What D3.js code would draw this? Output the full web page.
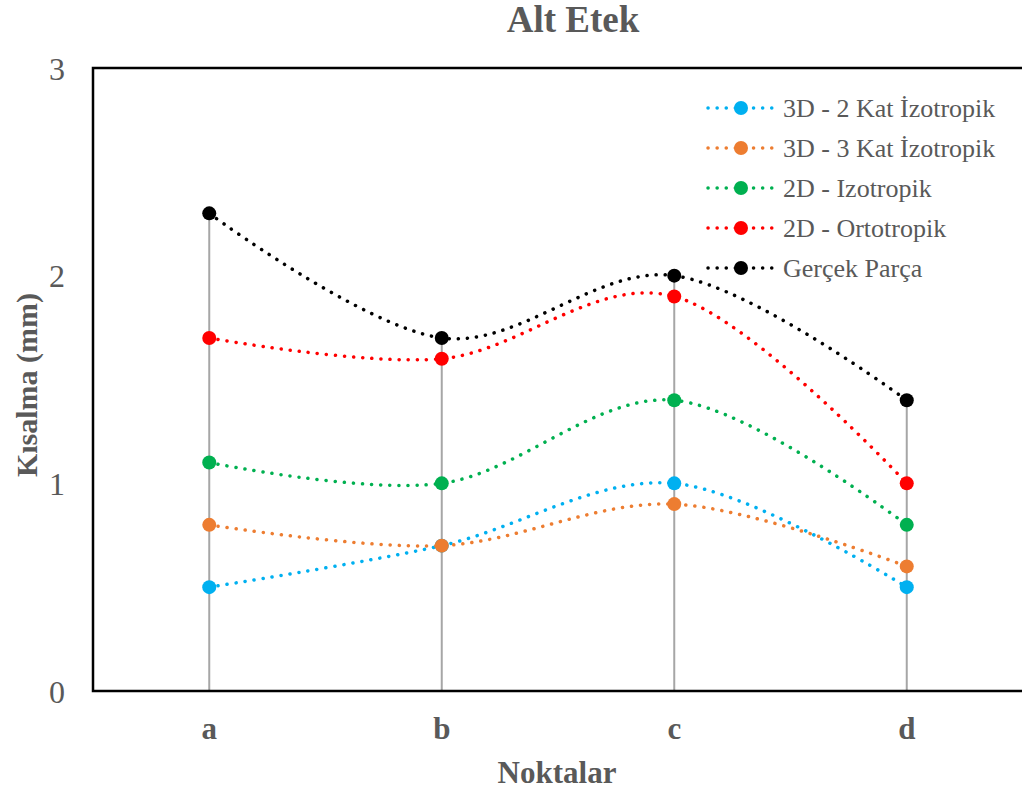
<!DOCTYPE html>
<html><head><meta charset="utf-8">
<script src="https://cdn.jsdelivr.net/npm/d3@7"></script>
<style>body{margin:0;background:#fff;} svg{display:block;} svg text{font-family:"Liberation Serif",Tinos,"Times New Roman",Times,"DejaVu Serif",serif;}</style>
</head><body>
<svg id="c" width="1022" height="794"></svg>
<script>
const categories = ["a","b","c","d"];
const seriesNames = ["3D - 2 Kat İzotropik","3D - 3 Kat İzotropik","2D - Izotropik","2D - Ortotropik","Gerçek Parça"];
const seriesColors = ["#00B0F0","#ED7D31","#00B050","#FF0000","#000000"];
const s3D2Kat = [0.5,0.7,1.0,0.5];
const s3D3Kat = [0.8,0.7,0.9,0.6];
const s2DIzo = [1.1,1.0,1.4,0.8];
const s2DOrto = [1.7,1.6,1.9,1.0];
const sGercek = [2.3,1.7,2.0,1.4];
const yTicks = [0,1,2,3];
const seriesValues = [s3D2Kat,s3D3Kat,s2DIzo,s2DOrto,sGercek];

const svg = d3.select("#c");
const L=93, R=1023, T=68, B=691;
const x = d3.scaleBand().domain(categories).range([L,R]);
const y = d3.scaleLinear().domain([0,3]).range([B,T]);
const xc = c => x(c)+x.bandwidth()/2;
const txt = "#595959";

// drop lines
categories.forEach((c,i)=>{
  const mx = d3.max(seriesValues, s=>s[i]);
  svg.append("line").attr("x1",xc(c)).attr("x2",xc(c)).attr("y1",y(mx)).attr("y2",y(0))
    .attr("stroke","#A6A6A6").attr("stroke-width",2);
});

// frame
svg.append("path").attr("d",`M${R},${T}H${L}V${B}H${R}`).attr("fill","none").attr("stroke","#000").attr("stroke-width",2.5);

// y tick labels
const yAxis = d3.axisLeft(y).tickValues(yTicks).tickSize(0).tickPadding(0).tickFormat(d3.format("d"));
const ga = svg.append("g").attr("transform",`translate(${L-28},0)`).call(yAxis);
ga.attr("font-family",null);
ga.select(".domain").remove();
ga.selectAll("text").attr("font-size",32).attr("fill",txt).attr("dy","0.35em");

// x labels
const xAxis = d3.axisBottom(x).tickSize(0).tickPadding(0);
const gx = svg.append("g").attr("transform",`translate(0,${B+26})`).call(xAxis);
gx.attr("font-family",null);
gx.select(".domain").remove();
gx.selectAll("text").attr("font-size",31).attr("font-weight","bold").attr("fill",txt).attr("dy","0.71em");

// lines
const line = d3.line().x((d,i)=>xc(categories[i])).y(d=>y(d)).curve(d3.curveCardinal.tension(0));
seriesValues.forEach((s,k)=>{
  svg.append("path").attr("d",line(s)).attr("fill","none").attr("stroke",seriesColors[k])
    .attr("stroke-width",3.5).attr("stroke-linecap","round").attr("stroke-dasharray","0.1 9");
});
seriesValues.forEach((s,k)=>{
  svg.selectAll(null).data(s).enter().append("circle")
    .attr("cx",(d,i)=>xc(categories[i])).attr("cy",d=>y(d)).attr("r",7).attr("fill",seriesColors[k]);
});

// legend
seriesNames.forEach((n,k)=>{
  const ly = 108 + k*40;
  svg.append("line").attr("x1",708).attr("x2",776).attr("y1",ly).attr("y2",ly)
    .attr("stroke",seriesColors[k]).attr("stroke-width",3.5).attr("stroke-linecap","round").attr("stroke-dasharray","0.1 9");
  svg.append("circle").attr("cx",741).attr("cy",ly).attr("r",7).attr("fill",seriesColors[k]);
  svg.append("text").attr("x",783).attr("y",ly).attr("dy","0.35em")
    .attr("font-size",26).attr("fill",txt).text(n);
});

// titles
svg.append("text").attr("x",573).attr("y",32).attr("text-anchor","middle")
  .attr("font-size",37).attr("font-weight","bold").attr("fill",txt).text("Alt Etek");
svg.append("text").attr("x",557).attr("y",783).attr("text-anchor","middle")
  .attr("font-size",31).attr("font-weight","bold").attr("fill",txt).text("Noktalar");
svg.append("text").attr("transform","translate(37,385) rotate(-90)").attr("text-anchor","middle")
  .attr("font-size",30).attr("font-weight","bold").attr("fill",txt).text("Kısalma (mm)");
</script>
</body></html>
